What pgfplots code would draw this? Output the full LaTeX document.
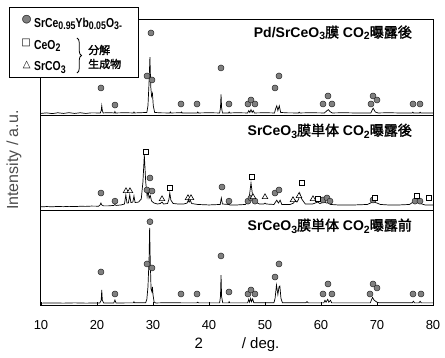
\documentclass[border=0pt]{standalone}
\usepackage{fontspec}
\setmainfont{Liberation Sans}
\newfontfamily\jp[AutoFakeBold=2]{Noto Sans CJK JP}
\newfontfamily\sym{DejaVu Sans}
\newfontfamily\nar[FakeStretch=0.8]{Liberation Sans}
\usepackage{pgfplots}
\pgfplotsset{compat=1.18}
\usetikzlibrary{decorations.pathreplacing}
\newcommand\tsub[1]{\raisebox{-0.35ex}{\fontsize{10.5}{11}\selectfont #1}}
\newcommand\nsub[1]{\raisebox{-0.3ex}{\fontsize{11}{12}\selectfont #1}}
\begin{document}
\begin{tikzpicture}
\begin{axis}[name=ax,
  width=392pt, height=286pt, scale only axis,
  xmin=10, xmax=80, ymin=0, ymax=3,
  xtick={10,20,...,80}, ytick=\empty,
  xtick pos=left, tick align=inside, major tick length=4pt,
  axis line style={line width=1pt}, tick style={line width=0.8pt, black},
  /pgf/number format/assume math mode=true,
  ticklabel style={font=\fontsize{13}{15}\selectfont},
  xticklabel style={yshift=-11pt},
  xlabel={2\hspace{2.6em}/ deg.},
  xlabel style={font=\fontsize{15}{17}\selectfont, at={(axis description cs:0.5,-0.136)}, anchor=center},
  ylabel={Intensity / a.u.},
  ylabel style={font=\fontsize{16}{18}\selectfont, text=black!70, at={(axis description cs:-0.069,0.51)}, anchor=center},
  circ/.style={only marks, mark=*, mark size=3pt, mark options={fill=gray, draw=black!85, line width=0.5pt}},
  sq/.style={only marks, mark=square*, mark size=2.7pt, mark options={fill=white, draw=black, line width=0.6pt}},
  tri/.style={only marks, mark=triangle*, mark size=3.2pt, mark options={fill=white, draw=black, line width=0.6pt}},
  pat/.style={black, line width=0.7pt, no marks},
]
% separators
\addplot[black, line width=1pt] coordinates {(10,1) (80,1)};
\addplot[black, line width=1pt] coordinates {(10,2) (80,2)};

% top pattern: Pd/SrCeO3 after CO2
\addplot[pat] coordinates {
(10,2.02) (11,2.026) (12,2.018) (13,2.027) (14,2.02) (15,2.028) (16,2.02) (17,2.027) (18,2.02) (19,2.026)
(20.6,2.025) (20.75,2.05) (20.85,2.1) (20.95,2.05) (21.1,2.025) (22,2.028) (23.1,2.025) (23.2,2.04) (23.3,2.025)
(25,2.027) (26.5,2.025) (26.6,2.035) (26.7,2.025) (28.9,2.03) (29.1,2.1) (29.3,2.35) (29.45,2.61) (29.6,2.3)
(29.75,2.2) (29.9,2.23) (30.05,2.1) (30.3,2.03) (31.5,2.026) (33,2.025) (33.1,2.035) (33.2,2.025) (35,2.027) (35.1,2.035) (35.2,2.025)
(37.9,2.025) (38,2.035) (38.1,2.025) (40,2.027) (41.9,2.025) (42.05,2.08) (42.15,2.22) (42.25,2.08) (42.4,2.025)
(43.5,2.025) (43.6,2.035) (43.7,2.025) (45,2.027) (46.9,2.025) (47.1,2.05) (47.3,2.03) (47.5,2.06) (47.7,2.03)
(47.9,2.05) (48.1,2.025) (50,2.027) (51.7,2.025) (51.9,2.07) (52.1,2.1) (52.3,2.05) (52.55,2.1) (52.8,2.03)
(54,2.026) (56,2.025) (56.1,2.033) (56.2,2.025) (58,2.027) (60.6,2.025) (61.0,2.045) (61.3,2.06) (61.6,2.04) (62,2.025)
(64,2.027) (66,2.025) (68.9,2.025) (69.3,2.075) (69.7,2.035) (70.2,2.025) (72,2.027) (74,2.025)
(76.3,2.025) (76.4,2.033) (76.5,2.025) (77.6,2.025) (77.7,2.033) (77.8,2.025) (80,2.025)};

% middle pattern: SrCeO3 after CO2
\addplot[pat] coordinates {
(10,1.04) (11,1.043) (12,1.041) (13,1.044) (14,1.042) (15,1.045) (16,1.043) (17,1.046) (18,1.045) (19,1.048)
(20.3,1.047) (20.55,1.06) (20.7,1.08) (20.85,1.06) (21.2,1.05) (22,1.05) (23,1.055) (23.2,1.065) (23.4,1.055)
(24.3,1.06) (24.9,1.07) (25.15,1.164) (25.35,1.08) (25.6,1.08) (25.85,1.164) (26.05,1.085) (26.4,1.09) (26.6,1.154)
(26.8,1.085) (27.4,1.09) (27.9,1.12) (28.2,1.3) (28.45,1.584) (28.7,1.3) (28.95,1.15) (29.1,1.217) (29.3,1.13)
(29.5,1.16) (29.75,1.1) (30.2,1.08) (30.8,1.07) (31.3,1.075) (31.6,1.09) (31.9,1.07) (32.6,1.075) (32.85,1.12)
(33.0,1.185) (33.2,1.11) (33.6,1.075) (34.5,1.07) (35.5,1.07) (36.1,1.08) (36.3,1.11) (36.45,1.09) (36.65,1.11)
(36.9,1.075) (38,1.065) (40,1.06) (42.0,1.065) (42.2,1.133) (42.4,1.07) (43.5,1.065) (43.6,1.075) (43.7,1.06)
(45,1.06) (46.5,1.065) (47.1,1.1) (47.5,1.29) (47.8,1.15) (48.0,1.143) (48.3,1.09) (49.0,1.07) (49.8,1.07)
(50.0,1.08) (50.2,1.07) (51.6,1.065) (52.1,1.11) (52.4,1.08) (52.7,1.11) (53.0,1.065) (54.5,1.065) (55.1,1.08)
(55.4,1.11) (55.7,1.09) (56.0,1.12) (56.2,1.185) (56.45,1.133) (56.7,1.11) (57.2,1.07) (58.5,1.07) (59.2,1.085)
(59.4,1.09) (59.8,1.075) (60.3,1.085) (60.6,1.09) (61.0,1.08) (61.3,1.085) (61.7,1.065) (63,1.06) (66,1.06)
(68.3,1.065) (69.0,1.085) (69.4,1.09) (70.0,1.08) (70.6,1.065) (72,1.06) (74,1.06) (75.8,1.065) (76.3,1.085)
(76.6,1.1) (77.0,1.085) (77.5,1.09) (78.0,1.07) (78.6,1.06) (80,1.06)};

% bottom pattern: SrCeO3 before CO2
\addplot[pat] coordinates {
(10,0.03) (12,0.032) (14,0.03) (16,0.033) (18,0.03) (20.5,0.032) (20.75,0.06) (20.85,0.168) (20.95,0.06)
(21.2,0.032) (23.0,0.032) (23.2,0.063) (23.4,0.032) (26.5,0.033) (26.6,0.045) (26.7,0.033) (28.7,0.035)
(28.9,0.07) (29.1,0.2) (29.3,0.5) (29.4,0.82) (29.5,0.5) (29.65,0.18) (29.8,0.15) (29.9,0.2) (30.0,0.12)
(30.2,0.04) (30.5,0.032) (33,0.035) (35,0.033) (37.8,0.033) (38,0.04) (38.1,0.033) (41.9,0.033) (42.05,0.1)
(42.15,0.325) (42.25,0.1) (42.45,0.033) (43.5,0.033) (43.6,0.045) (43.7,0.033) (46.9,0.033) (47.1,0.07)
(47.25,0.04) (47.45,0.08) (47.6,0.045) (47.8,0.075) (48.0,0.035) (51.6,0.035) (51.8,0.08) (52.05,0.22)
(52.3,0.12) (52.5,0.2) (52.65,0.21) (52.85,0.08) (53.1,0.035) (57.3,0.033) (57.5,0.045) (57.7,0.033)
(60.5,0.033) (60.7,0.06) (60.9,0.04) (61.2,0.07) (61.4,0.04) (61.7,0.06) (61.9,0.033) (68.8,0.033)
(69.2,0.09) (69.5,0.06) (70.0,0.04) (70.4,0.033) (72,0.035) (76.3,0.033) (76.5,0.05) (76.7,0.033)
(77.5,0.033) (77.7,0.05) (77.9,0.033) (80,0.033)};

% SrCe0.95Yb0.05O3 peaks (circles), top / middle / bottom
\addplot[circ] coordinates {
(20.71,2.287) (23.21,2.108) (29.64,2.864) (28.93,2.413) (29.82,2.371) (35.0,2.119) (37.86,2.119)
(42.14,2.497) (43.57,2.119) (46.96,2.119) (47.5,2.161) (48.21,2.119) (51.79,2.287) (52.5,2.413)
(60.36,2.119) (61.25,2.203) (61.96,2.119) (68.93,2.119) (69.29,2.203) (70.0,2.161) (76.43,2.119) (77.68,2.119)};
\addplot[circ] coordinates {
(20.71,1.185) (23.21,1.10) (29.46,1.343) (28.93,1.217) (29.82,1.206) (42.32,1.248) (43.57,1.10)
(46.96,1.10) (47.5,1.133) (48.21,1.10) (51.79,1.185) (52.5,1.217) (60.36,1.112) (61.07,1.133)
(61.61,1.10) (69.29,1.112) (76.79,1.10) (77.68,1.10)};
\addplot[circ] coordinates {
(20.71,0.357) (23.21,0.126) (28.93,0.441) (29.82,0.399) (29.46,0.884) (35.0,0.126) (37.86,0.126)
(42.14,0.525) (43.57,0.147) (46.96,0.126) (47.5,0.168) (48.21,0.126) (51.79,0.304) (52.5,0.441)
(60.36,0.126) (61.25,0.231) (61.96,0.126) (68.75,0.126) (69.29,0.231) (70.0,0.189) (76.43,0.126) (77.86,0.126)};
% CeO2 (squares)
\addplot[sq] coordinates {
(28.75,1.615) (33.04,1.238) (47.68,1.353) (56.61,1.29) (59.46,1.122) (69.64,1.133) (77.14,1.154) (79.29,1.133)};
% SrCO3 (triangles)
\addplot[tri] coordinates {
(25.18,1.206) (25.89,1.206) (31.61,1.122) (36.25,1.133) (36.79,1.133) (47.86,1.143) (50.0,1.143)
(55.0,1.112) (56.07,1.154) (58.57,1.122)};

% titles
\node[anchor=east, font=\fontsize{14}{16}\selectfont\bfseries] at (rel axis cs:0.955,0.955)
  {Pd/SrCeO\tsub{3}{\jp 膜} CO\tsub{2}{\jp 曝露後}};
\node[anchor=east, font=\fontsize{14}{16}\selectfont\bfseries] at (rel axis cs:0.955,0.612)
  {SrCeO\tsub{3}{\jp 膜単体} CO\tsub{2}{\jp 曝露後}};
\node[anchor=east, font=\fontsize{14}{16}\selectfont\bfseries] at (rel axis cs:0.955,0.280)
  {SrCeO\tsub{3}{\jp 膜単体} CO\tsub{2}{\jp 曝露前}};
\end{axis}
% legend box
\draw[line width=0.8pt, fill=white] ([shift={(-32pt,13pt)}]ax.north west) rectangle ([shift={(97pt,-57pt)}]ax.north west);
\node[inner sep=0, text=gray, font=\fontsize{11}{12}\selectfont\sym] at ([shift={(-14.3pt,0pt)}]ax.north west) {●};
\node[inner sep=0, text=black!85, font=\fontsize{11}{12}\selectfont\sym] at ([shift={(-14.3pt,0pt)}]ax.north west) {○};
\node[inner sep=0, font=\fontsize{10}{12}\selectfont\sym] at ([shift={(-15pt,-22.7pt)}]ax.north west) {□};
\node[inner sep=0, font=\fontsize{10}{12}\selectfont\sym] at ([shift={(-14.3pt,-45pt)}]ax.north west) {△};
\node[inner sep=0, anchor=base west, font=\fontsize{13}{14}\selectfont\nar\bfseries] at ([shift={(-7pt,-7.3pt)}]ax.north west)
  {SrCe\nsub{0.95}Yb\nsub{0.05}O\nsub{3-}};
\node[inner sep=0, anchor=base west, font=\fontsize{13}{14}\selectfont\nar\bfseries] at ([shift={(-7pt,-29.3pt)}]ax.north west)
  {CeO\nsub{2}};
\node[inner sep=0, anchor=base west, font=\fontsize{13}{14}\selectfont\nar\bfseries] at ([shift={(-7pt,-51pt)}]ax.north west)
  {SrCO\nsub{3}};
% decomposition products bracket
\draw[decorate, decoration={brace, amplitude=4.5pt}, line width=0.8pt]
  ([shift={(36pt,-18pt)}]ax.north west) -- ([shift={(36pt,-53pt)}]ax.north west);
\node[inner sep=0, anchor=west, font=\fontsize{11}{12}\selectfont\bfseries\jp] at ([shift={(47pt,-30pt)}]ax.north west) {分解};
\node[inner sep=0, anchor=west, font=\fontsize{11}{12}\selectfont\bfseries\jp] at ([shift={(47pt,-44pt)}]ax.north west) {生成物};
\pgfresetboundingbox
\path ([shift={(-41pt,-52pt)}]ax.south west) rectangle ([shift={(12pt,20pt)}]ax.north east);
\end{tikzpicture}
\end{document}
